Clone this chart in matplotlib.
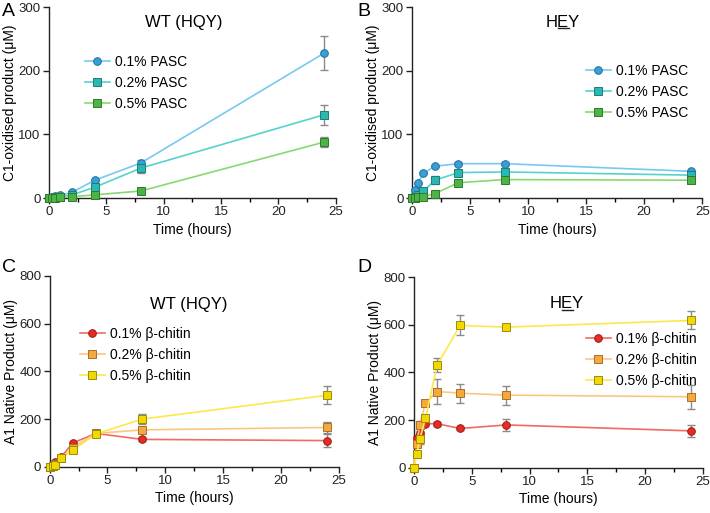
import matplotlib
matplotlib.use("Agg")
from matplotlib import pyplot as plt
from matplotlib.ticker import MultipleLocator
from matplotlib.lines import Line2D

plt.rcParams['font.family'] = ['Liberation Sans', 'DejaVu Sans']

# time points (hours)
time = [0, 0.25, 0.5, 1, 2, 4, 8, 24]

# A: WT (HQY) on PASC
wt_pasc_01 = [0, 1, 3, 4, 9, 28, 55, 228]
wt_pasc_01_err = [0, 0, 0, 0, 1, 2, 4, 27]
wt_pasc_02 = [0, 0.5, 1, 2, 5, 17, 47, 131]
wt_pasc_02_err = [0, 0, 0, 0, 1, 2, 8, 16]
wt_pasc_05 = [0, 0, 0.5, 1, 2, 5, 11, 88]
wt_pasc_05_err = [0, 0, 0, 0, 0, 1, 2, 8]

# B: HEY on PASC
hey_pasc_01 = [0, 13, 23, 39, 50, 54, 54, 42]
hey_pasc_01_err = [0, 1, 1, 2, 2, 2, 2, 2]
hey_pasc_02 = [0, 1, 4, 11, 28, 40, 41, 36]
hey_pasc_02_err = [0, 0, 1, 2, 6, 2, 2, 2]
hey_pasc_05 = [0, 0, 1, 2, 7, 24, 29, 28]
hey_pasc_05_err = [0, 0, 0, 0, 1, 2, 2, 2]

# C: WT (HQY) on beta-chitin
wt_chit_01 = [0, 5, 20, 42, 100, 140, 115, 110]
wt_chit_01_err = [0, 2, 3, 4, 6, 8, 8, 28]
wt_chit_02 = [0, 3, 10, 35, 80, 140, 155, 165]
wt_chit_02_err = [0, 1, 2, 4, 6, 8, 8, 25]
wt_chit_05 = [0, 2, 8, 35, 70, 138, 200, 300]
wt_chit_05_err = [0, 1, 2, 4, 6, 10, 22, 38]

# D: HEY on beta-chitin
hey_chit_01 = [0, 125, 145, 185, 185, 165, 180, 155]
hey_chit_01_err = [0, 10, 10, 10, 8, 8, 25, 25]
hey_chit_02 = [0, 100, 180, 272, 320, 313, 305, 298]
hey_chit_02_err = [0, 10, 15, 12, 52, 40, 40, 50]
hey_chit_05 = [0, 60, 120, 207, 430, 597, 590, 618]
hey_chit_05_err = [0, 8, 20, 15, 30, 42, 10, 38]

pasc_labels = ["0.1% PASC", "0.2% PASC", "0.5% PASC"]
chitin_labels = ["0.1% β-chitin", "0.2% β-chitin", "0.5% β-chitin"]

# (line colour, marker face, marker edge, marker)
pasc_styles = [("#79c9ef", "#3a9fd6", "#1f6f9e", "o"),
               ("#55d3cb", "#2bb8b0", "#1a7f7a", "s"),
               ("#86d873", "#4db347", "#2f7a2b", "s")]
chitin_styles = [("#f26a63", "#e52b24", "#9c1a15", "o"),
                 ("#fbc77e", "#f4a83e", "#a8702a", "s"),
                 ("#fbe84a", "#f2d800", "#9a8a10", "s")]


def underline_char(fig, ax, txt, idx):
    # underline one character of a text object (the mutation in "HEY")
    r = fig.canvas.get_renderer()
    full = txt.get_window_extent(r)
    s = txt.get_text()
    tmp = ax.text(0, 0, s[:idx], fontsize=txt.get_fontsize(), transform=None)
    x0 = tmp.get_window_extent(r).width
    tmp.set_text(s[:idx + 1])
    x1 = tmp.get_window_extent(r).width
    tmp.remove()
    y = full.y0 + 1.5
    inv = fig.transFigure.inverted()
    (fx0, fy), (fx1, _) = inv.transform([(full.x0 + x0, y), (full.x0 + x1, y)])
    fig.add_artist(Line2D([fx0, fx1], [fy, fy], color="#222222", lw=1,
                          transform=fig.transFigure))


def draw_panel(fig, rect, series, labels, styles, ymax, ystep, ylabel,
               title, title_xy, leg_xy, letter, letter_xy):
    ax = fig.add_axes(rect)
    for (y, e), lab, (lc, fc, ec, m) in zip(series, labels, styles):
        ax.errorbar(time, y, yerr=e, fmt='none', ecolor="#8a8a8a",
                    elinewidth=1, capsize=3, capthick=1, clip_on=False, zorder=2)
        ax.plot(time, y, color=lc, lw=1.2, marker=m, ms=5.5, mfc=fc, mec=ec,
                mew=0.7, label=lab, clip_on=False, zorder=3)
    ax.set_xlim(0, 25)
    ax.set_ylim(0, ymax)
    ax.xaxis.set_major_locator(MultipleLocator(5))
    ax.xaxis.set_minor_locator(MultipleLocator(2.5))
    ax.yaxis.set_major_locator(MultipleLocator(ystep))
    ax.spines['top'].set_visible(False)
    ax.spines['right'].set_visible(False)
    for s in ('left', 'bottom'):
        ax.spines[s].set_linewidth(1.0)
        ax.spines[s].set_color("#222222")
    ax.tick_params(labelsize=9.5, length=4, width=1, pad=2, colors="#222222")
    ax.tick_params(which='minor', length=3, width=1)
    ax.set_xlabel("Time (hours)", fontsize=10, labelpad=3)
    ax.set_ylabel(ylabel, fontsize=10, labelpad=1)
    t = ax.text(title_xy[0], title_xy[1], title, transform=ax.transAxes,
                ha='center', va='center', fontsize=12)
    ax.legend(loc='upper left', bbox_to_anchor=leg_xy, frameon=False,
              fontsize=10, handlelength=1.8, handletextpad=0.4,
              labelspacing=0.5, borderaxespad=0)
    fig.text(letter_xy[0], letter_xy[1], letter, fontsize=14, ha='left', va='top')
    return ax, t


fig = plt.figure(figsize=(7.1, 5.13), dpi=100)

draw_panel(fig, [0.069, 0.614, 0.404, 0.372],
           [(wt_pasc_01, wt_pasc_01_err), (wt_pasc_02, wt_pasc_02_err),
            (wt_pasc_05, wt_pasc_05_err)],
           pasc_labels, pasc_styles, 300, 100, "C1-oxidised product (μM)",
           "WT (HQY)", (0.47, 0.92), (0.105, 0.78), "A", (0.003, 0.995))

axB, tB = draw_panel(fig, [0.580, 0.614, 0.409, 0.372],
                     [(hey_pasc_01, hey_pasc_01_err), (hey_pasc_02, hey_pasc_02_err),
                      (hey_pasc_05, hey_pasc_05_err)],
                     pasc_labels, pasc_styles, 300, 100, "C1-oxidised product (μM)",
                     "HEY", (0.52, 0.92), (0.58, 0.73), "B", (0.503, 0.995))

draw_panel(fig, [0.070, 0.090, 0.407, 0.372],
           [(wt_chit_01, wt_chit_01_err), (wt_chit_02, wt_chit_02_err),
            (wt_chit_05, wt_chit_05_err)],
           chitin_labels, chitin_styles, 800, 200, "A1 Native Product (μM)",
           "WT (HQY)", (0.48, 0.85), (0.085, 0.76), "C", (0.003, 0.495))

axD, tD = draw_panel(fig, [0.583, 0.088, 0.407, 0.372],
                     [(hey_chit_01, hey_chit_01_err), (hey_chit_02, hey_chit_02_err),
                      (hey_chit_05, hey_chit_05_err)],
                     chitin_labels, chitin_styles, 800, 200, "A1 Native Product (μM)",
                     "HEY", (0.53, 0.86), (0.575, 0.74), "D", (0.503, 0.495))

fig.canvas.draw()
underline_char(fig, axB, tB, 1)
underline_char(fig, axD, tD, 1)

fig.savefig("out.png", dpi=100)
